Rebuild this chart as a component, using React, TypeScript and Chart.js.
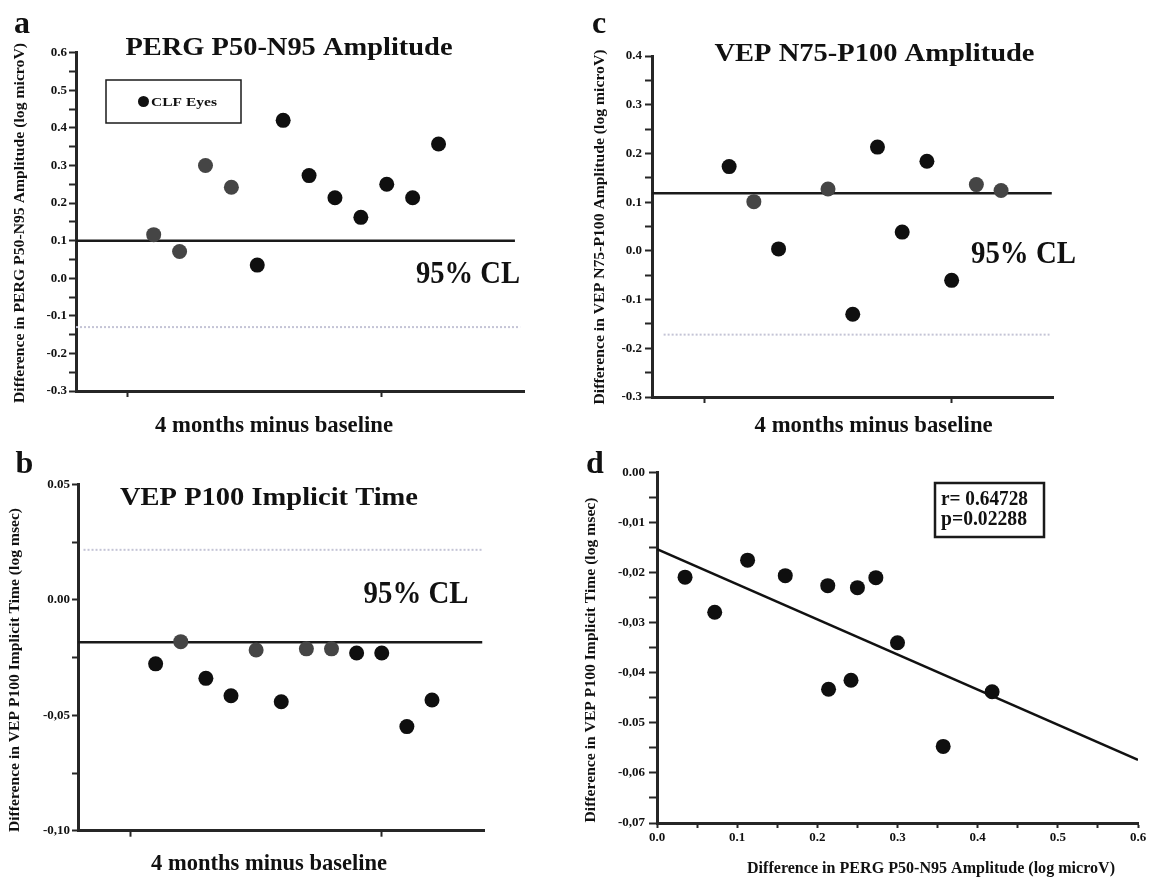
import React, { useEffect, useRef } from 'react';
import { Chart, registerables } from 'chart.js';

Chart.register(...registerables);

const SERIF = '"Liberation Serif", "Times New Roman", serif';
const AXIS = '#262626';
const INK = '#111111';

// ---------------- Panel a : PERG P50-N95 amplitude ----------------
const aEye = [1, 2, 3, 4, 5, 6, 7, 8, 9, 10, 11, 12];
const aDiff = [0.116, 0.071, 0.3, 0.242, 0.035, 0.42, 0.273, 0.214, 0.162, 0.25, 0.214, 0.357];
const aTone = ['g', 'g', 'g', 'g', 'k', 'k', 'k', 'k', 'k', 'k', 'k', 'k'];
const aUpperCL = 0.1;
const aLowerCL = -0.13;
const aYTickValues = [0.6, 0.5, 0.4, 0.3, 0.2, 0.1, 0, -0.1, -0.2, -0.3];
const aYTickLabels = ['0.6', '0.5', '0.4', '0.3', '0.2', '0.1', '0.0', '-0.1', '-0.2', '-0.3'];

// ---------------- Panel b : VEP P100 implicit time ----------------
const bEye = [1, 2, 3, 4, 5, 6, 7, 8, 9, 10, 11, 12];
const bDiff = [-0.0277, -0.0181, -0.034, -0.0415, -0.0217, -0.0441, -0.0212, -0.0212, -0.023, -0.023, -0.0549, -0.0434];
const bTone = ['k', 'g', 'k', 'k', 'g', 'k', 'g', 'g', 'k', 'k', 'k', 'k'];
const bLowerCL = -0.0184;
const bUpperCL = 0.0217;
const bYTickValues = [0.05, 0, -0.05, -0.1];
const bYTickLabels = ['0.05', '0.00', '-0,05', '-0,10'];

// ---------------- Panel c : VEP N75-P100 amplitude ----------------
const cEye = [1, 2, 3, 5, 6, 7, 8, 9, 10, 11, 12];
const cDiff = [0.173, 0.101, 0.004, 0.127, -0.13, 0.213, 0.0385, 0.184, -0.0605, 0.136, 0.124];
const cTone = ['k', 'g', 'k', 'g', 'k', 'k', 'k', 'k', 'k', 'g', 'g'];
const cUpperCL = 0.118;
const cLowerCL = -0.172;
const cYTickValues = [0.4, 0.3, 0.2, 0.1, 0, -0.1, -0.2, -0.3];
const cYTickLabels = ['0.4', '0.3', '0.2', '0.1', '0.0', '-0.1', '-0.2', '-0.3'];

// ---------------- Panel d : correlation ----------------
const dPerg = [0.035, 0.072, 0.113, 0.16, 0.213, 0.214, 0.242, 0.25, 0.273, 0.3, 0.357, 0.418];
const dVep = [-0.0209, -0.0279, -0.0175, -0.0206, -0.0226, -0.0433, -0.0415, -0.023, -0.021, -0.034, -0.0547, -0.0438];
const dFitX = [0, 0.6];
const dFitY = [-0.0153, -0.0574];
const dYTickValues = [0, -0.01, -0.02, -0.03, -0.04, -0.05, -0.06, -0.07];
const dYTickLabels = ['0.00', '-0,01', '-0,02', '-0,03', '-0,04', '-0.05', '-0,06', '-0,07'];
const dXTickValues = [0, 0.1, 0.2, 0.3, 0.4, 0.5, 0.6];
const dXTickLabels = ['0.0', '0.1', '0.2', '0.3', '0.4', '0.5', '0.6'];

const toneColor = (t: string) => (t === 'g' ? '#454545' : '#0f0f0f');

type Txt = { t: string; x: number; y: number; s: number; w?: number; al?: CanvasTextAlign; rot?: boolean };
type Box = { x1: number; y1: number; x2: number; y2: number; lw: number };
type Dot = { x: number; y: number; r: number };

interface PanelSpec {
  left: number;
  top: number;
  width: number;
  height: number;
  area: { l: number; t: number; r: number; b: number };
  xMin: number;
  xMax: number;
  yMin: number;
  yMax: number;
  xTicks?: number[];
  xStep?: number;
  xLabelValues?: number[];
  xLabels?: string[];
  yStep: number;
  yLabelValues: number[];
  yLabels: string[];
  yTickLen: number;
  yPad: number;
  xTickLen: number;
  xPad: number;
  datasets: any[];
  texts: Txt[];
  boxes?: Box[];
  dots?: Dot[];
}

const lookup = (vals: number[], labels: string[]) => (v: any) => {
  const n = Number(v);
  const i = vals.findIndex((u) => Math.abs(u - n) < 1e-7);
  return i >= 0 ? labels[i] : '';
};

function pointsDataset(xs: number[], ys: number[], tones: string[]) {
  return {
    data: xs.map((x, i) => ({ x, y: ys[i] })),
    backgroundColor: tones.map(toneColor),
    borderWidth: 0,
    pointRadius: 7.5,
    pointHoverRadius: 7.5,
    showLine: false,
  };
}

function levelLine(y: number, x0: number, x1: number, dotted: boolean) {
  return {
    data: [
      { x: x0, y },
      { x: x1, y },
    ],
    showLine: true,
    pointRadius: 0,
    borderColor: dotted ? '#c4c4d6' : '#1a1a1a',
    borderWidth: dotted ? 2 : 2.5,
    borderDash: dotted ? [2, 2] : [],
  };
}

function overlay(p: PanelSpec) {
  return {
    id: 'overlay',
    afterDraw(chart: any) {
      const ctx: CanvasRenderingContext2D = chart.ctx;
      const ox = p.left;
      const oy = p.top;
      (p.boxes || []).forEach((b) => {
        ctx.save();
        ctx.strokeStyle = '#1a1a1a';
        ctx.lineWidth = b.lw;
        ctx.strokeRect(b.x1 - ox, b.y1 - oy, b.x2 - b.x1, b.y2 - b.y1);
        ctx.restore();
      });
      (p.dots || []).forEach((d) => {
        ctx.save();
        ctx.fillStyle = INK;
        ctx.beginPath();
        ctx.arc(d.x - ox, d.y - oy, d.r, 0, Math.PI * 2);
        ctx.fill();
        ctx.restore();
      });
      p.texts.forEach((t) => {
        ctx.save();
        ctx.font = `bold ${t.s}px ${SERIF}`;
        ctx.fillStyle = INK;
        ctx.translate(t.x - ox, t.y - oy);
        if (t.rot) ctx.rotate(-Math.PI / 2);
        const m = ctx.measureText(t.t).width;
        if (t.w && m > 0) ctx.scale(t.w / m, 1);
        ctx.textAlign = t.al || 'center';
        ctx.textBaseline = t.rot ? 'middle' : 'alphabetic';
        ctx.fillText(t.t, 0, 0);
        ctx.restore();
      });
    },
  };
}

function buildConfig(p: PanelSpec): any {
  const tickFont = { family: SERIF, weight: 'bold' as const, size: 13 };
  return {
    type: 'scatter',
    data: { datasets: p.datasets },
    options: {
      animation: false,
      responsive: false,
      events: [],
      layout: {
        padding: { left: 0, top: p.area.t - p.top, right: p.left + p.width - p.area.r, bottom: 0 },
      },
      plugins: { legend: { display: false }, tooltip: { enabled: false }, title: { display: false } },
      scales: {
        x: {
          type: 'linear',
          position: 'bottom',
          min: p.xMin,
          max: p.xMax,
          border: { display: true, color: AXIS, width: 3 },
          grid: {
            display: true,
            drawOnChartArea: false,
            drawTicks: true,
            tickLength: p.xTickLen,
            tickWidth: 2,
            tickColor: AXIS,
            color: AXIS,
          },
          ticks: p.xLabels
            ? {
                display: true,
                stepSize: p.xStep,
                maxTicksLimit: 1000,
                autoSkip: false,
                maxRotation: 0,
                minRotation: 0,
                padding: p.xPad,
                color: INK,
                font: tickFont,
                callback: lookup(p.xLabelValues || [], p.xLabels),
              }
            : { display: false },
          afterBuildTicks: (s: any) => {
            if (p.xTicks) s.ticks = p.xTicks.map((v) => ({ value: v }));
          },
          afterFit: (s: any) => {
            s.height = p.top + p.height - p.area.b;
          },
        },
        y: {
          type: 'linear',
          position: 'left',
          min: p.yMin,
          max: p.yMax,
          border: { display: true, color: AXIS, width: 3 },
          grid: {
            display: true,
            drawOnChartArea: false,
            drawTicks: true,
            tickLength: p.yTickLen,
            tickWidth: 2,
            tickColor: AXIS,
            color: AXIS,
          },
          ticks: {
            display: true,
            stepSize: p.yStep,
            maxTicksLimit: 1000,
            autoSkip: false,
            padding: p.yPad,
            color: INK,
            font: tickFont,
            callback: lookup(p.yLabelValues, p.yLabels),
          },
          afterFit: (s: any) => {
            s.width = p.area.l - p.left;
          },
        },
      },
    },
    plugins: [overlay(p)],
  };
}

const panelA: PanelSpec = {
  left: 0,
  top: 0,
  width: 580,
  height: 440,
  area: { l: 76, t: 52.7, r: 524, b: 391 },
  xMin: -2,
  xMax: 15.3,
  yMin: -0.3,
  yMax: 0.6,
  xTicks: [0, 9.8],
  yStep: 0.05,
  yLabelValues: aYTickValues,
  yLabels: aYTickLabels,
  yTickLen: 7,
  yPad: 2,
  xTickLen: 6,
  xPad: 2,
  datasets: [
    pointsDataset(aEye, aDiff, aTone),
    levelLine(aUpperCL, -2, 14.95, false),
    levelLine(aLowerCL, -2, 15.15, true),
  ],
  texts: [
    { t: 'a', x: 22, y: 33, s: 32 },
    { t: 'PERG P50-N95 Amplitude', x: 289, y: 55, s: 26, w: 327 },
    { t: 'CLF Eyes', x: 151, y: 106, s: 13, w: 66, al: 'left' },
    { t: '95% CL', x: 416, y: 283, s: 31, w: 104, al: 'left' },
    { t: 'Difference in PERG P50-N95 Amplitude (log microV)', x: 20, y: 223, s: 14, w: 360, rot: true },
    { t: '4 months minus baseline', x: 274, y: 432, s: 24, w: 238 },
  ],
  boxes: [{ x1: 106, y1: 80, x2: 241, y2: 123, lw: 1.5 }],
  dots: [{ x: 143.5, y: 101.5, r: 5.5 }],
};

const panelC: PanelSpec = {
  left: 580,
  top: 0,
  width: 579,
  height: 440,
  area: { l: 652, t: 56, r: 1053, b: 397 },
  xMin: -2.12,
  xMax: 14.1,
  yMin: -0.3,
  yMax: 0.4,
  xTicks: [0, 10],
  yStep: 0.05,
  yLabelValues: cYTickValues,
  yLabels: cYTickLabels,
  yTickLen: 7,
  yPad: 3,
  xTickLen: 6,
  xPad: 2,
  datasets: [
    pointsDataset(cEye, cDiff, cTone),
    levelLine(cUpperCL, -2.12, 14.05, false),
    levelLine(cLowerCL, -1.65, 13.96, true),
  ],
  texts: [
    { t: 'c', x: 599, y: 33, s: 32 },
    { t: 'VEP N75-P100 Amplitude', x: 874.5, y: 61, s: 26, w: 320 },
    { t: '95% CL', x: 971, y: 263, s: 31, w: 105, al: 'left' },
    { t: 'Difference in VEP N75-P100 Amplitude (log microV)', x: 600, y: 227, s: 14, w: 355, rot: true },
    { t: '4 months minus baseline', x: 873.6, y: 432, s: 24, w: 238 },
  ],
};

const panelB: PanelSpec = {
  left: 0,
  top: 440,
  width: 580,
  height: 442,
  area: { l: 78, t: 484.5, r: 484, b: 830.7 },
  xMin: -2.09,
  xMax: 14.07,
  yMin: -0.1,
  yMax: 0.05,
  xTicks: [0, 10],
  yStep: 0.025,
  yLabelValues: bYTickValues,
  yLabels: bYTickLabels,
  yTickLen: 6,
  yPad: 2,
  xTickLen: 6,
  xPad: 2,
  datasets: [
    pointsDataset(bEye, bDiff, bTone),
    levelLine(bLowerCL, -2.09, 14.0, false),
    levelLine(bUpperCL, -1.87, 14.0, true),
  ],
  texts: [
    { t: 'b', x: 24.5, y: 473, s: 32 },
    { t: 'VEP P100 Implicit Time', x: 269, y: 505, s: 26, w: 298 },
    { t: '95% CL', x: 363.6, y: 603, s: 31, w: 105, al: 'left' },
    { t: 'Difference in VEP P100 Implicit Time (log msec)', x: 15.5, y: 670, s: 14, w: 324, rot: true },
    { t: '4 months minus baseline', x: 269, y: 870, s: 24, w: 236 },
  ],
};

const panelD: PanelSpec = {
  left: 580,
  top: 440,
  width: 579,
  height: 442,
  area: { l: 657, t: 472.5, r: 1138, b: 823 },
  xMin: 0,
  xMax: 0.6,
  yMin: -0.07,
  yMax: 0,
  xStep: 0.05,
  xLabelValues: dXTickValues,
  xLabels: dXTickLabels,
  yStep: 0.005,
  yLabelValues: dYTickValues,
  yLabels: dYTickLabels,
  yTickLen: 8,
  yPad: 4,
  xTickLen: 5,
  xPad: 2,
  datasets: [
    pointsDataset(dPerg, dVep, dPerg.map(() => 'k')),
    {
      data: dFitX.map((x, i) => ({ x, y: dFitY[i] })),
      showLine: true,
      pointRadius: 0,
      borderColor: '#111111',
      borderWidth: 2.5,
    },
  ],
  texts: [
    { t: 'd', x: 595, y: 473, s: 32 },
    { t: 'r= 0.64728', x: 941, y: 505, s: 20, w: 87, al: 'left' },
    { t: 'p=0.02288', x: 941, y: 525, s: 20, w: 86, al: 'left' },
    { t: 'Difference in VEP P100 Implicit Time (log msec)', x: 591, y: 660, s: 14, w: 325, rot: true },
    { t: 'Difference in PERG P50-N95 Amplitude (log microV)', x: 931, y: 873, s: 16, w: 368 },
  ],
  boxes: [{ x1: 935, y1: 483, x2: 1044, y2: 537, lw: 2.5 }],
};

function PanelCanvas({ spec }: { spec: PanelSpec }) {
  const ref = useRef<HTMLCanvasElement | null>(null);
  useEffect(() => {
    if (!ref.current) return;
    const chart = new Chart(ref.current, buildConfig(spec));
    return () => chart.destroy();
  }, [spec]);
  return (
    <canvas
      ref={ref}
      width={spec.width}
      height={spec.height}
      style={{ position: 'absolute', left: spec.left, top: spec.top, width: spec.width, height: spec.height }}
    />
  );
}

export default function App() {
  return (
    <div
      style={{
        position: 'fixed',
        left: 0,
        top: 0,
        width: 1159,
        height: 882,
        background: '#ffffff',
        overflow: 'hidden',
      }}
    >
      <PanelCanvas spec={panelA} />
      <PanelCanvas spec={panelC} />
      <PanelCanvas spec={panelB} />
      <PanelCanvas spec={panelD} />
    </div>
  );
}
